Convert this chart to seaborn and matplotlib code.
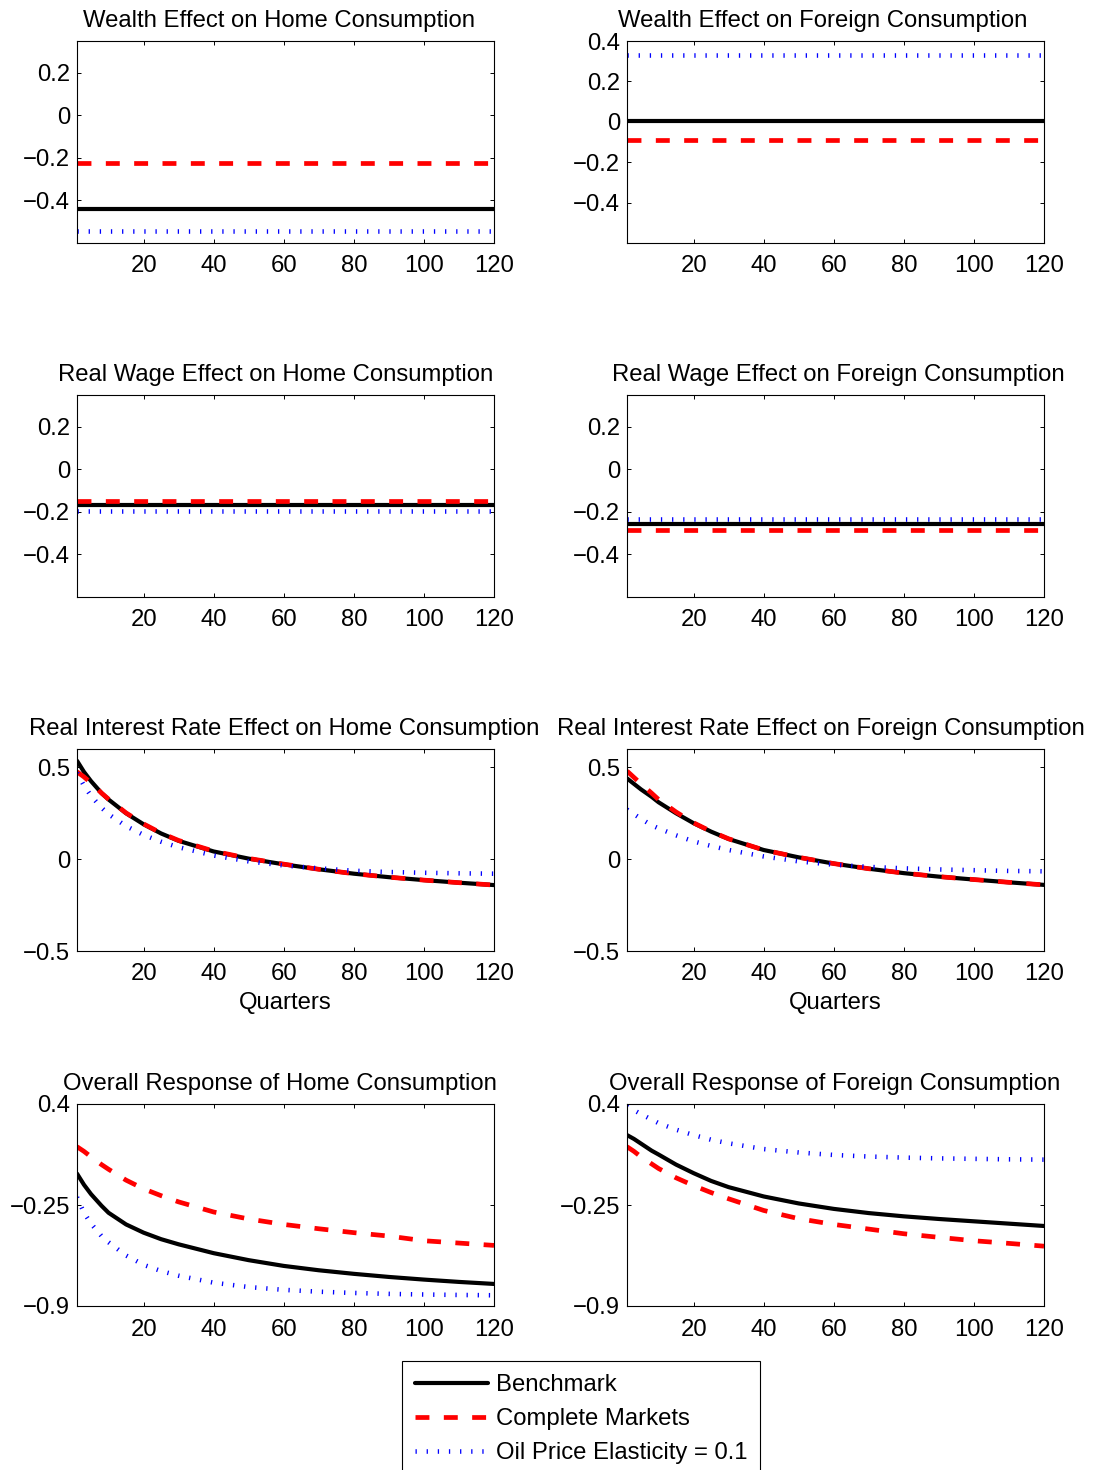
import numpy as np
import pandas as pd
import matplotlib
matplotlib.use("Agg")
import matplotlib.pyplot as plt
import seaborn as sns

# ---------------------------------------------------------------------------
# Data
# ---------------------------------------------------------------------------
series_names = ["Benchmark", "Complete Markets", "Oil Price Elasticity = 0.1"]

# Flat effects: constant level over the whole horizon (Benchmark, Complete, Oil 0.1)
quarters_flat = [1, 120]
wealth_home = [-0.442, -0.224, -0.543]
wealth_foreign = [0.006, -0.091, 0.333]
wage_home = [-0.165, -0.150, -0.196]
wage_foreign = [-0.258, -0.283, -0.233]

# Time-varying effects, sampled at these quarters
quarters = [1, 3, 5, 8, 10, 15, 20, 25, 30, 40, 50, 60, 70, 80, 90, 100, 110, 120]

rate_home_bench = [0.536, 0.475, 0.425, 0.360, 0.325, 0.250, 0.190, 0.140, 0.100, 0.042,
                   0.003, -0.028, -0.055, -0.079, -0.098, -0.114, -0.128, -0.141]
rate_home_complete = [0.476, 0.448, 0.415, 0.360, 0.327, 0.252, 0.192, 0.142, 0.102, 0.044,
                      0.004, -0.027, -0.055, -0.079, -0.098, -0.114, -0.128, -0.141]
rate_home_oil = [0.470, 0.400, 0.345, 0.280, 0.245, 0.180, 0.132, 0.095, 0.065, 0.020,
                 -0.012, -0.034, -0.050, -0.063, -0.070, -0.074, -0.077, -0.079]

rate_foreign_bench = [0.440, 0.410, 0.380, 0.340, 0.310, 0.250, 0.196, 0.150, 0.110, 0.050,
                      0.010, -0.024, -0.052, -0.076, -0.095, -0.111, -0.126, -0.140]
rate_foreign_complete = [0.480, 0.445, 0.410, 0.360, 0.325, 0.257, 0.198, 0.151, 0.111, 0.050,
                         0.010, -0.024, -0.052, -0.076, -0.095, -0.111, -0.126, -0.140]
rate_foreign_oil = [0.270, 0.245, 0.220, 0.185, 0.168, 0.130, 0.097, 0.072, 0.050, 0.015,
                    -0.012, -0.030, -0.042, -0.050, -0.056, -0.060, -0.064, -0.066]

overall_home_bench = [-0.048, -0.120, -0.180, -0.255, -0.300, -0.375, -0.428, -0.470, -0.503,
                      -0.560, -0.605, -0.642, -0.670, -0.693, -0.713, -0.730, -0.745, -0.758]
overall_home_complete = [0.125, 0.095, 0.060, 0.010, -0.020, -0.090, -0.146, -0.190, -0.230,
                         -0.295, -0.340, -0.375, -0.403, -0.428, -0.450, -0.480, -0.495, -0.510]
overall_home_oil = [-0.200, -0.300, -0.370, -0.450, -0.490, -0.575, -0.635, -0.675, -0.705,
                    -0.750, -0.778, -0.796, -0.808, -0.816, -0.822, -0.826, -0.829, -0.831]

overall_foreign_bench = [0.200, 0.175, 0.145, 0.100, 0.075, 0.010, -0.045, -0.095, -0.135,
                         -0.195, -0.240, -0.275, -0.302, -0.323, -0.340, -0.355, -0.370, -0.385]
overall_foreign_complete = [0.125, 0.095, 0.060, 0.015, -0.015, -0.075, -0.125, -0.170, -0.210,
                            -0.285, -0.338, -0.375, -0.405, -0.435, -0.458, -0.480, -0.497, -0.515]
overall_foreign_oil = [0.385, 0.360, 0.335, 0.300, 0.277, 0.235, 0.200, 0.170, 0.147,
                       0.110, 0.088, 0.072, 0.062, 0.055, 0.050, 0.047, 0.044, 0.042]

titles = [
    "Wealth Effect on Home Consumption", "Wealth Effect on Foreign Consumption",
    "Real Wage Effect on Home Consumption", "Real Wage Effect on Foreign Consumption",
    "Real Interest Rate Effect on Home Consumption", "Real Interest Rate Effect on Foreign Consumption",
    "Overall Response of Home Consumption", "Overall Response of Foreign Consumption",
]

xticks = [20, 40, 60, 80, 100, 120]
yticks_flat_small = [0.2, 0, -0.2, -0.4]
yticks_flat_small_labels = ["0.2", "0", "\u22120.2", "\u22120.4"]
yticks_wealth_foreign = [0.4, 0.2, 0, -0.2, -0.4]
yticks_wealth_foreign_labels = ["0.4", "0.2", "0", "\u22120.2", "\u22120.4"]
yticks_rate = [0.5, 0, -0.5]
yticks_rate_labels = ["0.5", "0", "\u22120.5"]
yticks_overall = [0.4, -0.25, -0.9]
yticks_overall_labels = ["0.4", "\u22120.25", "\u22120.9"]

# ---------------------------------------------------------------------------
# Style
# ---------------------------------------------------------------------------
FS = 17.2

sns.set_style("ticks")
plt.rcParams.update({
    "font.family": ["Liberation Sans", "DejaVu Sans"],
    "font.size": FS,
    "axes.linewidth": 0.8,
    "axes.edgecolor": "black",
    "axes.labelcolor": "black",
    "axes.titlecolor": "black",
    "xtick.direction": "in",
    "ytick.direction": "in",
    "xtick.top": True,
    "ytick.right": True,
    "xtick.major.size": 3.2,
    "ytick.major.size": 3.2,
    "xtick.major.width": 0.7,
    "ytick.major.width": 0.7,
    "xtick.major.pad": 9,
    "ytick.major.pad": 5,
    "xtick.color": "black",
    "ytick.color": "black",
    "xtick.labelcolor": "black",
    "ytick.labelcolor": "black",
    "text.color": "black",
})

line_styles = [
    dict(color="black", linewidth=3.0, linestyle="-"),
    dict(color="#ff0000", linewidth=3.4, linestyle=(0, (2.95, 3.05))),
    dict(color="#0000ff", linewidth=3.3, linestyle=(0, (0.28, 2.15))),
]

fig = plt.figure(figsize=(10.93, 14.70), dpi=100)

W, H = 1093.0, 1470.0
col_left = [77, 627]
col_width = 417
row_top = [41, 395, 749, 1104]
row_height = 202
# horizontal centre of each panel title, in axes fraction
title_x = [0.484, 0.469, 0.476, 0.506, 0.496, 0.466, 0.486, 0.499]

axes = []
for r in range(4):
    for c in range(2):
        ax = fig.add_axes([col_left[c] / W, 1 - (row_top[r] + row_height) / H,
                           col_width / W, row_height / H])
        axes.append(ax)


def draw_flat(ax, levels):
    for lvl, sty in zip(levels, line_styles):
        sns.lineplot(x=quarters_flat, y=[lvl, lvl], ax=ax, legend=False, **sty)


def draw_curves(ax, curves):
    for vals, sty in zip(curves, line_styles):
        sns.lineplot(x=quarters, y=vals, ax=ax, legend=False, **sty)


draw_flat(axes[0], wealth_home)
draw_flat(axes[1], wealth_foreign)
draw_flat(axes[2], wage_home)
draw_flat(axes[3], wage_foreign)
draw_curves(axes[4], [rate_home_bench, rate_home_complete, rate_home_oil])
draw_curves(axes[5], [rate_foreign_bench, rate_foreign_complete, rate_foreign_oil])
draw_curves(axes[6], [overall_home_bench, overall_home_complete, overall_home_oil])
draw_curves(axes[7], [overall_foreign_bench, overall_foreign_complete, overall_foreign_oil])

ylims = [(-0.6, 0.35), (-0.6, 0.4), (-0.6, 0.35), (-0.6, 0.35),
         (-0.5, 0.6), (-0.5, 0.6), (-0.9, 0.4), (-0.9, 0.4)]
ytick_sets = [
    (yticks_flat_small, yticks_flat_small_labels),
    (yticks_wealth_foreign, yticks_wealth_foreign_labels),
    (yticks_flat_small, yticks_flat_small_labels),
    (yticks_flat_small, yticks_flat_small_labels),
    (yticks_rate, yticks_rate_labels),
    (yticks_rate, yticks_rate_labels),
    (yticks_overall, yticks_overall_labels),
    (yticks_overall, yticks_overall_labels),
]

for i, ax in enumerate(axes):
    ax.set_xlim(1, 120)
    ax.set_ylim(*ylims[i])
    ax.set_xticks(xticks)
    ax.set_xticklabels([str(t) for t in xticks])
    ax.set_yticks(ytick_sets[i][0])
    ax.set_yticklabels(ytick_sets[i][1])
    ax.set_title(titles[i], fontsize=FS, pad=10, x=title_x[i])
    ax.set_xlabel("")
    ax.set_ylabel("")
    for sp in ax.spines.values():
        sp.set_visible(True)
        sp.set_color("black")
    ax.tick_params(labelsize=FS)

for ax in axes[4:6]:
    ax.set_xlabel("Quarters", fontsize=FS, labelpad=5, color="black")

handles = axes[0].get_lines()[:3]
leg = fig.legend(handles, series_names, loc="upper center",
                 bbox_to_anchor=(581 / W, 1 - 1361 / H),
                 frameon=True, fancybox=False, framealpha=1, edgecolor="black",
                 fontsize=FS, handlelength=3.05, handletextpad=0.34,
                 labelspacing=0.5, borderpad=0.55, borderaxespad=0)
leg.get_frame().set_linewidth(0.8)
for txt in leg.get_texts():
    txt.set_color("black")

fig.savefig("out.png", dpi=100, facecolor="white")
